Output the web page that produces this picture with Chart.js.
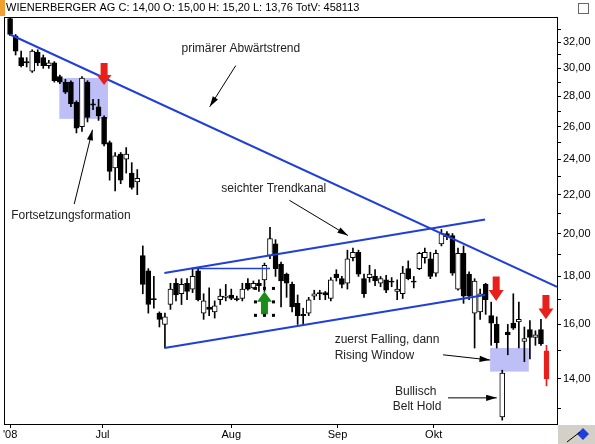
<!DOCTYPE html>
<html>
<head>
<meta charset="utf-8">
<script src="https://cdn.jsdelivr.net/npm/chart.js@4/dist/chart.umd.min.js"></script>
<style>
	body { margin: 0; background: #fff; }
	#wrap { width: 595px; height: 444px; position: relative; }
</style>
</head>
<body>
<div id="wrap"><canvas id="chartjs-canvas"></canvas></div>
<script>
// daily candles, index 0 = first day shown
const opens  = [33.9,32.5,30.8,30.5,29.8,31.2,30.8,30.2,30.4,29.4,29.0,29.0,27.6,26.0,29.0,27.5,27.3,26.6,25.0,23.5,24.3,24.0,23.2,22.7,
	18.95,18.25,17.05,16.45,16.0,16.8,17.7,17.25,17.7,17.45,18.25,16.45,16.7,16.5,17.0,17.1,17.2,17.05,17.05,17.7,17.5,17.7,17.85,18.95,19.5,18.55,
	18.1,17.65,16.85,16.4,16.45,17.15,17.3,17.3,17.05,18.1,17.9,17.7,18.85,19.1,17.9,17.95,18.0,17.7,17.85,17.8,17.35,17.25,18.35,17.8,18.35,18.85,
	18.8,18.15,19.5,20.0,19.9,17.45,19.05,18.1,16.45,16.5,17.65,16.35,16.0,12.75,15.7,16.05,16.1,15.35,15.8,15.5,15.8,15.0];
const highs  = [34.0,32.6,31.3,30.8,31.4,31.4,31.0,30.6,30.5,29.5,29.2,29.1,27.7,29.4,29.1,27.8,27.8,26.7,25.1,24.4,24.4,24.7,23.8,23.4,
	19.4,18.35,18.0,16.5,16.45,17.7,17.9,17.9,17.9,18.35,18.35,17.25,17.5,16.95,17.45,17.65,17.45,17.15,17.7,17.9,17.8,17.85,18.6,20.3,19.7,18.65,
	18.15,17.75,17.2,16.65,17.1,17.4,17.4,17.35,17.95,18.3,18.0,19.2,19.3,19.2,18.1,18.5,18.3,18.0,18.05,17.95,17.85,18.45,18.7,18.0,19.1,19.3,
	19.1,19.2,20.2,20.1,20.0,19.3,19.4,18.2,17.9,17.45,17.7,16.9,16.3,14.3,16.0,17.25,16.9,15.9,16.15,15.75,16.2,15.2];
const lows   = [32.5,31.0,30.1,30.1,29.7,30.2,30.0,30.0,29.0,28.9,28.2,27.3,25.6,25.7,26.3,27.1,26.4,24.8,22.8,22.2,22.6,23.2,22.3,22.0,
	17.25,16.45,16.65,15.9,15.1,16.6,16.95,16.8,17.0,17.3,16.95,16.2,16.35,16.25,16.8,16.95,17.0,16.95,16.95,17.4,17.45,17.35,17.35,18.8,18.0,16.7,
	17.1,16.5,16.0,16.0,16.35,17.0,17.0,17.0,16.95,17.8,17.5,17.45,18.7,18.0,17.1,17.75,17.6,17.55,17.3,17.55,17.0,17.05,17.85,17.5,18.3,18.6,
	17.9,18.0,19.4,19.7,18.05,17.4,16.85,17.0,15.1,16.2,16.4,15.2,15.1,12.65,14.85,15.8,15.1,14.6,14.7,15.2,15.2,13.76];
const closes = [32.6,31.3,30.2,30.4,31.3,30.4,30.2,30.4,29.1,29.0,28.3,27.5,25.9,29.3,26.6,27.4,26.7,24.9,23.3,24.2,22.8,24.3,22.4,22.9,
	17.65,16.8,17.0,16.2,16.3,17.45,17.2,17.65,17.35,18.0,17.0,16.95,16.6,16.75,17.15,17.15,17.05,17.0,17.45,17.45,17.7,17.6,18.5,19.75,18.35,17.8,
	17.7,16.7,16.35,16.35,17.0,17.25,17.25,17.2,17.85,17.95,17.65,18.8,19.1,18.1,17.25,18.1,17.8,17.9,17.4,17.75,17.45,18.15,17.9,17.75,19.05,19.1,
	18.0,19.05,20.0,19.85,18.15,19.05,17.15,17.15,17.8,17.25,17.0,16.05,15.3,14.2,15.6,15.85,16.2,15.45,15.5,15.6,15.25,14.0];

const monthPos = [0, 16.7, 40, 59.2, 76.6];
const monthLabels = ["'08", 'Jul', 'Aug', 'Sep', 'Okt'];
const priceTicks = [13,14,15,16,17,18,19,20,21,22,23,24,25,26,27,28,29,30,31,32,33];

// trend lines [x0, y0, x1, y1]
const downTrend = [0, 32.6, 98.9, 17.55];
const channelTop = [27.9, 18.15, 85.9, 20.7];
const channelBottom = [27.9, 15.1, 85.9, 17.2];
const resistance = [32.8, 18.35, 47, 18.35];

// shaded areas [x0, x1, yTop, yBottom]
const boxes = [[8.9, 17.7, 29.3, 26.5], [86.8, 93.8, 15.1, 14.25]];
// block arrows [x, yFrom, yTo, colour]
const blockArrows = [[17, 30.4, 28.8, '#e8201c'], [87.9, 18.0, 16.95, '#e8201c'], [96.9, 17.2, 16.2, '#e8201c'], [46, 16.4, 17.35, '#1a8c1a']];
// texts [text, x, y]
const notes = [
	['primärer Abwärtstrend', 31, 31.5],
	['Fortsetzungsformation', 0.2, 20.9],
	['seichter Trendkanal', 38.2, 22.3],
	['zuerst Falling, dann', 58.7, 15.4],
	['Rising Window', 58.7, 14.82],
	['Bullisch', 69.6, 13.56],
	['Belt Hold', 69.2, 13.07]
];
// pointer arrows [x0, y0, x1, y1]
const pointers = [[40.8, 30.2, 36.1, 27.3], [11.6, 21.5, 14.9, 25.8], [50.5, 21.7, 61.1, 19.9], [78.3, 14.85, 86.8, 14.66], [79.2, 13.36, 88.0, 13.36]];

const FONT = 'Liberation Sans, Arial, sans-serif';
const idx = opens.map((_, i) => i);
const isLast = i => i === opens.length - 1;
const bodyFill = idx.map(i => isLast(i) ? '#e8201c' : (closes[i] >= opens[i] ? '#ffffff' : '#000000'));
const bodyBorder = idx.map(i => isLast(i) ? '#e8201c' : '#000000');

const lineSet = (p, w) => ({
	type: 'line',
	data: [{x: p[0], y: p[1]}, {x: p[2], y: p[3]}],
	borderColor: '#1f3fd8',
	borderWidth: w,
	pointRadius: 0,
	order: -1
});

const annotations = {
	id: 'annotations',
	beforeDatasetsDraw(chart) {
		const {ctx, scales: {x, y}} = chart;
		ctx.save();
		ctx.fillStyle = 'rgba(170,170,245,0.75)';
		boxes.forEach(b => {
			const x0 = x.getPixelForValue(b[0]), x1 = x.getPixelForValue(b[1]);
			const y0 = y.getPixelForValue(b[2]), y1 = y.getPixelForValue(b[3]);
			ctx.fillRect(x0, y0, x1 - x0, y1 - y0);
		});
		ctx.restore();
	},
	afterDatasetsDraw(chart) {
		const {ctx, scales: {x, y}} = chart;
		ctx.save();
		// block arrows
		blockArrows.forEach(a => {
			const cx = x.getPixelForValue(a[0]);
			const y0 = y.getPixelForValue(a[1]), y1 = y.getPixelForValue(a[2]);
			const dir = y1 > y0 ? 1 : -1;
			const len = Math.abs(y1 - y0), head = len * 0.45;
			const yh = y1 - dir * head;
			ctx.fillStyle = a[3];
			ctx.beginPath();
			ctx.moveTo(cx - 3.5, y0);
			ctx.lineTo(cx + 3.5, y0);
			ctx.lineTo(cx + 3.5, yh);
			ctx.lineTo(cx + 7.5, yh);
			ctx.lineTo(cx, y1);
			ctx.lineTo(cx - 7.5, yh);
			ctx.lineTo(cx - 3.5, yh);
			ctx.closePath();
			ctx.fill();
			if (a[3] !== '#e8201c') {
				// selection handles
				ctx.fillStyle = '#000';
				const l = cx - 9, r = cx + 9, t = Math.min(y0, y1) - 3, b = Math.max(y0, y1) + 1;
				[[l, t], [cx, t], [r, t], [l, (t + b) / 2], [r, (t + b) / 2], [l, b], [cx, b], [r, b]]
					.forEach(p => ctx.fillRect(p[0] - 1.5, p[1] - 1.5, 3, 3));
			}
		});
		// pointers
		ctx.strokeStyle = '#000';
		ctx.fillStyle = '#000';
		ctx.lineWidth = 1;
		pointers.forEach(p => {
			const x0 = x.getPixelForValue(p[0]), y0 = y.getPixelForValue(p[1]);
			const x1 = x.getPixelForValue(p[2]), y1 = y.getPixelForValue(p[3]);
			const ang = Math.atan2(y1 - y0, x1 - x0);
			ctx.beginPath();
			ctx.moveTo(x0, y0);
			ctx.lineTo(x1, y1);
			ctx.stroke();
			ctx.beginPath();
			ctx.moveTo(x1, y1);
			ctx.lineTo(x1 - 11 * Math.cos(ang - 0.28), y1 - 11 * Math.sin(ang - 0.28));
			ctx.lineTo(x1 - 11 * Math.cos(ang + 0.28), y1 - 11 * Math.sin(ang + 0.28));
			ctx.closePath();
			ctx.fill();
		});
		ctx.font = '12px ' + FONT;
		ctx.textBaseline = 'middle';
		ctx.fillStyle = '#222';
		notes.forEach(n => ctx.fillText(n[0], x.getPixelForValue(n[1]), y.getPixelForValue(n[2])));
		ctx.restore();
	},
	afterDraw(chart) {
		const {ctx, chartArea: ca} = chart;
		ctx.save();
		ctx.fillStyle = '#000';
		ctx.font = '11px ' + FONT;
		ctx.textBaseline = 'middle';
		ctx.fillText('WIENERBERGER AG C: 14,00 O: 15,00 H: 15,20 L: 13,76 TotV: 458113', 6, 8);
		ctx.fillStyle = '#f0a030';
		ctx.fillRect(0, 0, 5, 16);
		ctx.strokeStyle = '#666';
		ctx.strokeRect(578.5, 3.5, 10, 10);
		ctx.strokeStyle = '#000';
		ctx.strokeRect(ca.left + 0.5, ca.top + 0.5, ca.right - ca.left, ca.bottom - ca.top);
		ctx.fillStyle = '#d4d0c8';
		ctx.fillRect(ca.right + 1, ca.bottom + 1, 595 - ca.right, 444 - ca.bottom);
		ctx.fillStyle = '#1f3fd8';
		ctx.beginPath();
		ctx.moveTo(583, 428); ctx.lineTo(589, 434); ctx.lineTo(583, 440); ctx.lineTo(577, 434);
		ctx.fill();
		ctx.strokeStyle = '#000';
		ctx.beginPath(); ctx.moveTo(567, 442); ctx.lineTo(580, 432); ctx.stroke();
		ctx.restore();
	}
};

const config = {
	type: 'bar',
	data: {
		datasets: [
			{
				data: idx.map(i => ({x: i, y: [opens[i], closes[i]]})),
				backgroundColor: bodyFill,
				borderColor: bodyBorder,
				borderWidth: 1,
				borderSkipped: false,
				barThickness: 5,
				grouped: false,
				order: 0
			},
			{
				data: idx.map(i => ({x: i, y: [lows[i], highs[i]]})),
				backgroundColor: bodyBorder,
				borderWidth: 0,
				barThickness: 1,
				grouped: false,
				order: 1
			},
			lineSet(downTrend, 2),
			lineSet(channelTop, 2),
			lineSet(channelBottom, 2),
			lineSet(resistance, 1.5)
		]
	},
	options: {
		responsive: true,
		maintainAspectRatio: false,
		animation: false,
		layout: {padding: {top: 17, left: 4}},
		plugins: {legend: {display: false}, tooltip: {enabled: false}},
		scales: {
			x: {
				type: 'linear',
				offset: false,
				min: -1.1,
				max: 98.9,
				afterBuildTicks: axis => { axis.ticks = monthPos.map(v => ({value: v})); },
				afterFit: axis => { axis.height = 20; },
				grid: {drawOnChartArea: false, tickLength: 4, color: '#000', offset: false},
				border: {color: '#000'},
				ticks: {
					color: '#000',
					padding: 0,
					font: {family: FONT, size: 11},
					callback: (v, i) => monthLabels[i]
				}
			},
			y: {
				type: 'logarithmic',
				position: 'right',
				min: 12.53,
				max: 34.03,
				afterBuildTicks: axis => { axis.ticks = priceTicks.map(v => ({value: v})); },
				afterFit: axis => { axis.width = 38; },
				grid: {drawOnChartArea: false, tickLength: 4, color: '#000'},
				border: {color: '#000'},
				ticks: {
					color: '#000',
					padding: 2,
					font: {family: FONT, size: 11},
					callback: v => v % 2 === 0 ? v.toFixed(2).replace('.', ',') : ''
				}
			}
		}
	},
	plugins: [annotations]
};

new Chart(document.getElementById('chartjs-canvas'), config);
</script>
</body>
</html>
